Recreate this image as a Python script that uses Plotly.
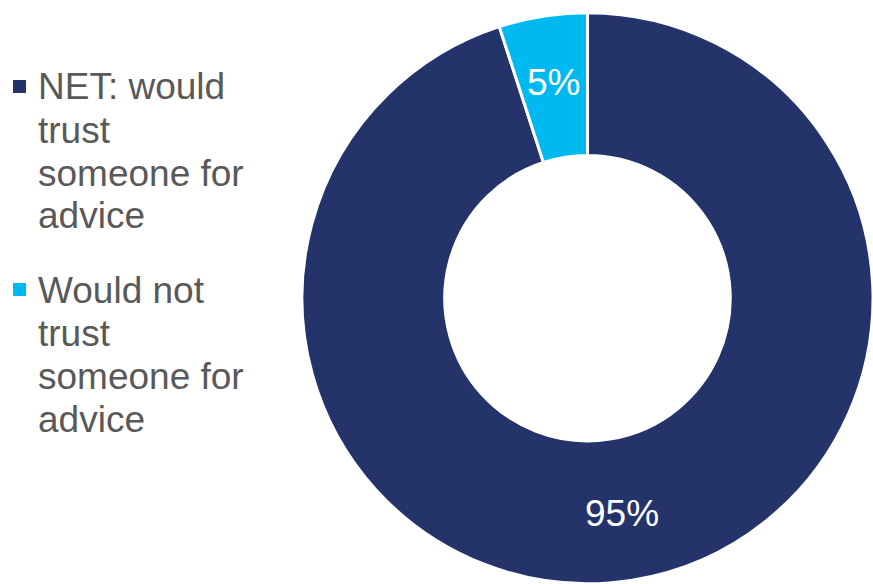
import math
import plotly.graph_objects as go

labels = ["NET: would trust someone for advice",
          "Would not trust someone for advice"]
legend_lines = [["NET: would", "trust", "someone for", "advice"],
                ["Would not", "trust", "someone for", "advice"]]
values = [95, 5]
text_labels = ["95%", "5%"]
colors = ["#24346B", "#00B9F1"]

FONT = "Liberation Sans, Arial, sans-serif"
W, H = 873, 584

# Donut geometry (pixels)
dom_x = [302 / W, 1.0]
dom_y = [0.0, 0.979]
cx = (dom_x[0] + dom_x[1]) / 2 * W
cy = H - (dom_y[0] + dom_y[1]) / 2 * H   # from top
label_r = 218

fig = go.Figure(go.Pie(
    labels=labels,
    values=values,
    textinfo="none",
    hole=0.5,
    sort=False,
    direction="clockwise",
    rotation=0,
    marker=dict(colors=colors, line=dict(color="white", width=3)),
    domain=dict(x=dom_x, y=dom_y),
    hoverinfo="label+percent",
    showlegend=False,
))

annotations = []
shapes = []

# Percentage labels at the middle of each ring segment
total = sum(values)
cum = 0
for v, t in zip(values, text_labels):
    mid = (cum + v / 2) / total * 2 * math.pi
    cum += v
    px = cx + label_r * math.sin(mid)
    py = cy - label_r * math.cos(mid)
    annotations.append(dict(
        text=t, xref="paper", yref="paper",
        x=px / W, y=1 - py / H, xanchor="center", yanchor="middle",
        showarrow=False, font=dict(family=FONT, size=37, color="white"),
    ))

# Hand-built legend with tighter line spacing than the built-in legend allows
entry_top = [87, 290]      # centre of first text line of each entry (px from top)
line_step = 43             # px between lines
text_x = 35.5
for i, lines in enumerate(legend_lines):
    y0 = entry_top[i]
    shapes.append(dict(
        type="rect", xref="paper", yref="paper",
        x0=13 / W, x1=26 / W,
        y0=1 - (y0 - 7) / H, y1=1 - (y0 + 6) / H,
        fillcolor=colors[i], line=dict(width=0),
    ))
    for j, line in enumerate(lines):
        annotations.append(dict(
            text=line, xref="paper", yref="paper",
            x=text_x / W, y=1 - (y0 + j * line_step) / H,
            xanchor="left", yanchor="middle", showarrow=False,
            font=dict(family=FONT, size=37, color="#595959"),
        ))

fig.update_layout(
    width=W, height=H,
    margin=dict(l=0, r=0, t=0, b=0),
    paper_bgcolor="white",
    plot_bgcolor="white",
    annotations=annotations,
    shapes=shapes,
    font=dict(family=FONT),
)

fig.write_html("out.html")
